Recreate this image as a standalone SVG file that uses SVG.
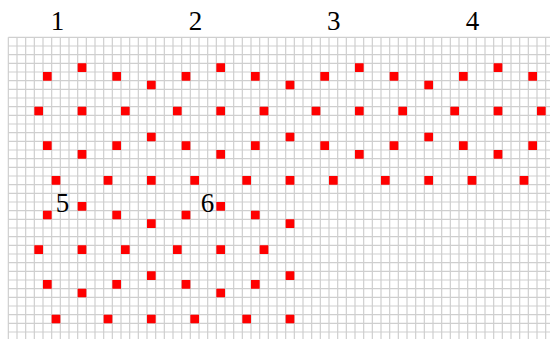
<svg xmlns="http://www.w3.org/2000/svg" width="550" height="339" viewBox="0 0 550 339">
<style>
.grid{fill:none;stroke:#cfcfcf;stroke-width:1.2}
.sq{fill:#ff0000}
.lbl{font-family:"Liberation Serif","Times New Roman",serif;font-size:27px;fill:#000;text-anchor:middle}
</style>
<rect width="550" height="339" fill="#ffffff"/>
<g id="grid" transform="translate(8.333,37.333) scale(8.6667)">
<path class="grid" vector-effect="non-scaling-stroke" d="M0 0V34.81M1 0V34.81M2 0V34.81M3 0V34.81M4 0V34.81M5 0V34.81M6 0V34.81M7 0V34.81M8 0V34.81M9 0V34.81M10 0V34.81M11 0V34.81M12 0V34.81M13 0V34.81M14 0V34.81M15 0V34.81M16 0V34.81M17 0V34.81M18 0V34.81M19 0V34.81M20 0V34.81M21 0V34.81M22 0V34.81M23 0V34.81M24 0V34.81M25 0V34.81M26 0V34.81M27 0V34.81M28 0V34.81M29 0V34.81M30 0V34.81M31 0V34.81M32 0V34.81M33 0V34.81M34 0V34.81M35 0V34.81M36 0V34.81M37 0V34.81M38 0V34.81M39 0V34.81M40 0V34.81M41 0V34.81M42 0V34.81M43 0V34.81M44 0V34.81M45 0V34.81M46 0V34.81M47 0V34.81M48 0V34.81M49 0V34.81M50 0V34.81M51 0V34.81M52 0V34.81M53 0V34.81M54 0V34.81M55 0V34.81M56 0V34.81M57 0V34.81M58 0V34.81M59 0V34.81M60 0V34.81M61 0V34.81M62 0V34.81M0 0H62.5M0 1H62.5M0 2H62.5M0 3H62.5M0 4H62.5M0 5H62.5M0 6H62.5M0 7H62.5M0 8H62.5M0 9H62.5M0 10H62.5M0 11H62.5M0 12H62.5M0 13H62.5M0 14H62.5M0 15H62.5M0 16H62.5M0 17H62.5M0 18H62.5M0 19H62.5M0 20H62.5M0 21H62.5M0 22H62.5M0 23H62.5M0 24H62.5M0 25H62.5M0 26H62.5M0 27H62.5M0 28H62.5M0 29H62.5M0 30H62.5M0 31H62.5M0 32H62.5M0 33H62.5M0 34H62.5"/>
</g>
<g id="squares" transform="translate(8.333,37.333) scale(8.6667)">
<path class="sq" d="M8 3h1v1h-1zM24 3h1v1h-1zM40 3h1v1h-1zM56 3h1v1h-1z
M4 4h1v1h-1zM12 4h1v1h-1zM20 4h1v1h-1zM28 4h1v1h-1zM36 4h1v1h-1zM44 4h1v1h-1zM52 4h1v1h-1zM60 4h1v1h-1z
M16 5h1v1h-1zM32 5h1v1h-1zM48 5h1v1h-1z
M3 8h1v1h-1zM8 8h1v1h-1zM13 8h1v1h-1zM19 8h1v1h-1zM24 8h1v1h-1zM29 8h1v1h-1zM35 8h1v1h-1zM40 8h1v1h-1zM45 8h1v1h-1zM51 8h1v1h-1zM56 8h1v1h-1zM61 8h1v1h-1z
M16 11h1v1h-1zM32 11h1v1h-1zM48 11h1v1h-1z
M4 12h1v1h-1zM12 12h1v1h-1zM20 12h1v1h-1zM28 12h1v1h-1zM36 12h1v1h-1zM44 12h1v1h-1zM52 12h1v1h-1zM60 12h1v1h-1z
M8 13h1v1h-1zM24 13h1v1h-1zM40 13h1v1h-1zM56 13h1v1h-1z
M5 16h1v1h-1zM11 16h1v1h-1zM16 16h1v1h-1zM21 16h1v1h-1zM27 16h1v1h-1zM32 16h1v1h-1zM37 16h1v1h-1zM43 16h1v1h-1zM48 16h1v1h-1zM53 16h1v1h-1zM59 16h1v1h-1z
M8 19h1v1h-1zM24 19h1v1h-1z
M4 20h1v1h-1zM12 20h1v1h-1zM20 20h1v1h-1zM28 20h1v1h-1z
M16 21h1v1h-1zM32 21h1v1h-1z
M3 24h1v1h-1zM8 24h1v1h-1zM13 24h1v1h-1zM19 24h1v1h-1zM24 24h1v1h-1zM29 24h1v1h-1z
M16 27h1v1h-1zM32 27h1v1h-1z
M4 28h1v1h-1zM12 28h1v1h-1zM20 28h1v1h-1zM28 28h1v1h-1z
M8 29h1v1h-1zM24 29h1v1h-1z
M5 32h1v1h-1zM11 32h1v1h-1zM16 32h1v1h-1zM21 32h1v1h-1zM27 32h1v1h-1zM32 32h1v1h-1z"/>
</g>
<g id="labels">
<text class="lbl" x="57.5" y="30">1</text>
<text class="lbl" x="195.5" y="30">2</text>
<text class="lbl" x="333.7" y="30">3</text>
<text class="lbl" x="472.5" y="30">4</text>
<text class="lbl" x="62.5" y="211.5">5</text>
<text class="lbl" x="207.5" y="211.5">6</text>
</g>
</svg>
